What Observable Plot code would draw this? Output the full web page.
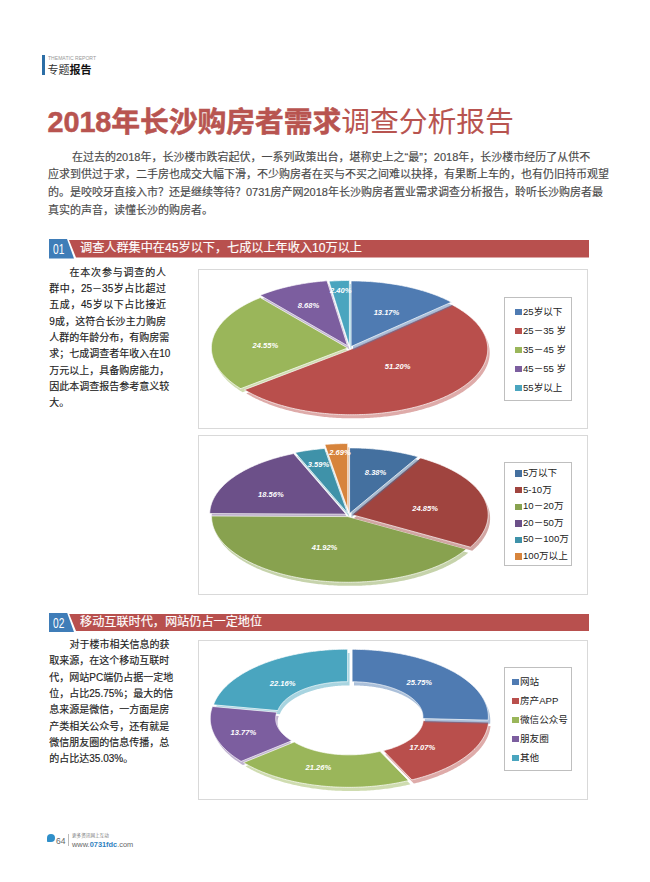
<!DOCTYPE html>
<html lang="zh"><head><meta charset="utf-8">
<script src="https://cdn.jsdelivr.net/npm/d3@7"></script>
<script src="https://cdn.jsdelivr.net/npm/@observablehq/plot@0.6"></script>
<style>
html,body{margin:0;padding:0;background:#fff;width:650px;height:882px;overflow:hidden;font-family:"Liberation Sans","Noto Sans CJK SC",sans-serif}
#page{position:relative;width:650px;height:882px}
.a{position:absolute;white-space:nowrap}
.just{position:absolute;text-align:justify;text-align-last:justify;white-space:nowrap;-webkit-text-stroke:.15px currentColor}
.box{position:absolute;left:198px;width:390px;height:160px;border:1px solid #d9d9d9;box-sizing:border-box}
.box svg{position:absolute;left:-1px;top:-1px;overflow:visible}
.legend{position:absolute;left:504px;width:68px;height:104px;border:1px solid #bfbfbf;box-sizing:border-box;background:#fff}
.sw{position:absolute;width:6.5px;height:6.5px}
.lt{position:absolute;font-size:9.6px;line-height:12px;color:#222;white-space:nowrap}
.hdr{position:absolute;left:49px;width:540px;height:19px}
.hb{position:absolute;left:0;top:0;width:26px;height:19.5px;background:#3f7db8;clip-path:polygon(0 0,18px 0,25px 100%,0 100%);color:#fff}
.hb span{display:inline-block;font:15px/20px "Liberation Sans";transform:scaleX(.68);transform-origin:0 50%;margin-left:4px}
.hr{position:absolute;left:20px;top:1px;right:0;height:17.5px;background:#b8504e;clip-path:polygon(0 0,100% 0,100% 100%,7px 100%);color:#fff;font-size:12.15px;line-height:17.5px;padding-left:11px;box-sizing:border-box;white-space:nowrap;-webkit-text-stroke:.15px #fff}
</style></head><body><div id="page"></div>
<script>
// ---- chart 1
const ageCategories = ["25岁以下","25－35 岁","35－45 岁","45－55 岁","55岁以上"];
const ageValues = [13.17,51.20,24.55,8.68,2.40];
const agePalette = ["#4f7bb2","#b94f4c","#9ab65a","#7c5e9f","#4aa5bf"];
const ageLabelReach = [0.6,0.45,0.62,0.71,0.88];
const ageLabelTurn = [3,-11,-3,-1,0];
const ageExplode = [0.025,0.02,0.015,0.04,0.03];
// ---- chart 2
const incomeCategories = ["5万以下","5-10万","10－20万","20－50万","50－100万","100万以上"];
const incomeValues = [8.38,24.85,41.92,18.56,3.59,2.69];
const incomePalette = ["#44709f","#a0443f","#88a24f","#6c5089","#3f92a9","#d7843c"];
const incomeLabelReach = [0.67,0.57,0.53,0.65,0.8,0.96];
const incomeLabelTurn = [2,4.5,4.5,-5.5,0,1];
const incomeExplode = [0.024,0.024,0.024,0.024,0.03,0.09];
// ---- chart 3
const channelCategories = ["网站","房产APP","微信公众号","朋友圈","其他"];
const channelValues = [25.75,17.07,21.26,13.77,22.16];
const channelPalette = agePalette;
const channelLabelReach = [0.73,0.69,0.77,0.81,0.71];
const channelLabelTurn = [-2,6,5,-1,-4];
const channelExplode = [0.024,0.024,0.024,0.024,0.024];

const titleBold = "2018年长沙购房者需求";
const titleLight = "调查分析报告";
const introLines = [
 "在过去的2018年，长沙楼市跌宕起伏，一系列政策出台，堪称史上之“最”；2018年，长沙楼市经历了从供不",
 "应求到供过于求，二手房也成交大幅下滑，不少购房者在买与不买之间难以抉择，有果断上车的，也有仍旧持币观望",
 "的。是咬咬牙直接入市？还是继续等待？0731房产网2018年长沙购房者置业需求调查分析报告，聆听长沙购房者最",
 "真实的声音，读懂长沙的购房者。"];
const side1 = ["在本次参与调查的人","群中，25－35岁占比超过","五成，45岁以下占比接近","9成，这符合长沙主力购房","人群的年龄分布，有购房需","求；七成调查者年收入在10","万元以上，具备购房能力，","因此本调查报告参考意义较","大。"];
const side2 = ["对于楼市相关信息的获","取来源，在这个移动互联时","代，网站PC端仍占据一定地","位，占比25.75%；最大的信","息来源是微信，一方面是房","产类相关公众号，还有就是","微信朋友圈的信息传播，总","的占比达35.03%。"];

const page = document.getElementById("page");
function el(cls, css, html, parent){const d=document.createElement("div");d.className=cls;d.style.cssText=css;if(html!=null)d.innerHTML=html;(parent||page).appendChild(d);return d;}

function pie({categories,values,palette,reach,turn,explode,top,cx,cy,rx,ry,inner=0,legendTop,swX=16,txX=19,legendGap=19}){
  const W=390,H=160;
  const total=d3.sum(values);
  const rad=d=>d*Math.PI/180;
  let acc=0;
  const slices=values.map((v,i)=>{const a0=acc/total*360;acc+=v;const a1=acc/total*360;return {name:categories[i],v,i,a0,a1,mid:(a0+a1)/2};});
  const outline=(s,dx,dy)=>{
    const ex=Math.sin(rad(s.mid))*explode[s.i]+dx, ey=-Math.cos(rad(s.mid))*explode[s.i]+dy;
    const steps=d3.range(s.a0,s.a1,0.75).concat(s.a1);
    const pts=steps.map(a=>({name:s.name,x:Math.sin(rad(a))+ex,y:-Math.cos(rad(a))+ey}));
    const back=inner>0?steps.slice().reverse().map(a=>({name:s.name,x:inner*Math.sin(rad(a))+ex,y:-inner*Math.cos(rad(a))+ey})):[{name:s.name,x:ex,y:ey}];
    const all=pts.concat(back);all.push(all[0]);return all;
  };
  const marks=[];
  slices.slice().reverse().forEach(s=>{
    marks.push(Plot.line(outline(s,0.014,0.055),{x:"x",y:"y",fill:"name",fillOpacity:0.48,curve:"linear",stroke:null}));
    marks.push(Plot.line(outline(s,0,0),{x:"x",y:"y",fill:"name",curve:"linear",stroke:"#fff",strokeWidth:0.7,strokeLinejoin:"miter"}));
  });
  marks.push(Plot.text(slices,{
    x:s=>reach[s.i]*Math.sin(rad(s.mid+turn[s.i])),
    y:s=>-reach[s.i]*Math.cos(rad(s.mid+turn[s.i])),
    text:s=>s.v.toFixed(2)+"%",fill:"#fff",fontSize:7.6,fontWeight:"bold",fontStyle:"italic",fontFamily:"Liberation Sans"}));
  const plot=Plot.plot({width:W,height:H,margin:0,
    x:{axis:null,domain:[-cx/rx,(W-cx)/rx],range:[0,W]},
    y:{axis:null,domain:[-cy/ry,(H-cy)/ry],range:[0,H]},
    color:{domain:categories,range:palette},
    style:{background:"transparent"},marks});
  const box=el("box","top:"+top+"px");
  box.appendChild(plot);
  const lg=el("legend","top:"+legendTop+"px");
  categories.forEach((c,i)=>{
    const y=7+ (104-14-legendGap*(categories.length-1))/2 + legendGap*i;
    el("sw","left:"+(swX-6)+"px;top:"+(y-3.2)+"px;background:"+palette[i],null,lg);
    el("lt","left:"+(txX-1)+"px;top:"+(y-6.5)+"px",c,lg);
  });
}

// header
el("a","left:42px;top:55px;width:3px;height:20px;background:#2c6ea6");
el("a","left:47.5px;top:54px;font:6.2px/8px 'Liberation Sans';color:#999;transform:scaleX(.82);transform-origin:0 0","THEMATIC REPORT");
el("a","left:47.5px;top:63px;font-size:11px;line-height:14px;color:#333",'专题<b style="color:#111">报告</b>');
// title
el("a","left:47.5px;top:103px;font-size:28.85px;line-height:38px;color:#b85450;letter-spacing:-.1px",'<b style="-webkit-text-stroke:.5px #b85450">'+titleBold+'</b><span style="font-weight:400">'+titleLight+'</span>');
// intro
introLines.forEach((t,i)=>{
  const y=149.5+i*17.8;
  if(i==3) el("a","left:48px;top:"+y+"px;font-size:11px;line-height:14px;color:#4a4a4a;-webkit-text-stroke:.15px #4a4a4a",t);
  else el("just","left:"+(i==0?72:48)+"px;width:"+(i==0?515:539)+"px;top:"+y+"px;font-size:11px;line-height:14px;color:#4a4a4a",t);
});
// sections
function header(top,num,txt){const h=el("hdr","top:"+top+"px");el("hb","","<span>"+num+"</span>",h);el("hr","",txt,h);}
header(239,"01","调查人群集中在45岁以下，七成以上年收入10万以上");
header(612.5,"02","移动互联时代，网站仍占一定地位");
function side(lines,top){lines.forEach((t,i)=>{
  const y=top+i*16.35;
  const last=i==lines.length-1;
  if(last) el("a","left:49.3px;top:"+y+"px;font-size:10px;line-height:14px;color:#222;-webkit-text-stroke:.15px #222",t);
  else el("just","left:"+(i==0?69.5:49.3)+"px;width:"+(i==0?96.5:116.7)+"px;top:"+y+"px;font-size:10px;line-height:14px;color:#222",t);
});}
side(side1,265.5);
side(side2,638);

pie({categories:ageCategories,values:ageValues,palette:agePalette,reach:ageLabelReach,turn:ageLabelTurn,explode:ageExplode,top:269,cx:152,cy:79,rx:137,ry:66,legendTop:297});
pie({categories:incomeCategories,values:incomeValues,palette:incomePalette,reach:incomeLabelReach,turn:incomeLabelTurn,explode:incomeExplode,top:435,cx:151,cy:80,rx:137,ry:66,legendTop:462,legendGap:16.6});
pie({categories:channelCategories,values:channelValues,palette:channelPalette,reach:channelLabelReach,turn:channelLabelTurn,explode:channelExplode,top:640,cx:152,cy:78,rx:137,ry:68,inner:0.52,legendTop:667,swX:13,txX:16});

// footer
el("a","left:47px;top:834px;width:8px;height:8px;border-radius:50% 50% 50% 10%;background:#2f8fc9");
el("a","left:56px;top:836px;font-size:8.5px;line-height:10px;color:#666","64");
el("a","left:68px;top:834px;width:.7px;height:12px;background:#bbb");
el("a","left:72px;top:833px;font-size:4.6px;line-height:6px;color:#777","更多资讯网上互动");
el("a","left:72px;top:840px;font-size:7.4px;line-height:9px;color:#666",'www.<b style="color:#2f7fc0">0731fdc</b>.com');
</script></body></html>
